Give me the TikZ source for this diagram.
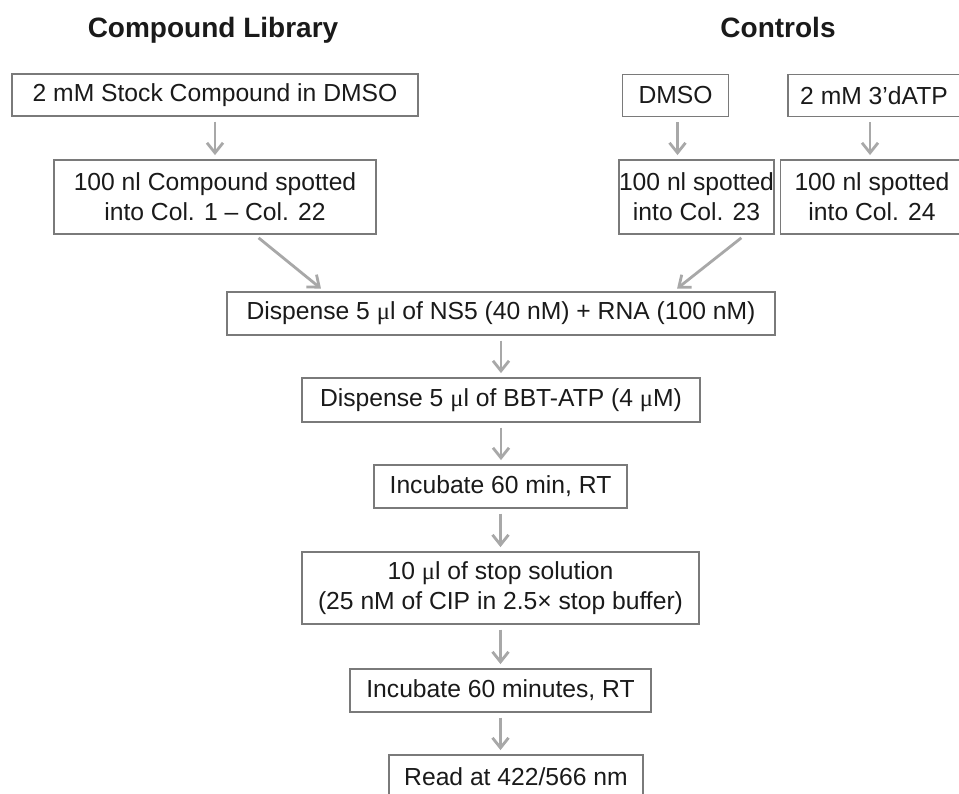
\documentclass[tikz,border=0pt]{standalone}
\usepackage{fontspec}
\setmainfont{Liberation Sans}
\newfontfamily\mufont{Liberation Serif}
\newcommand{\um}{{\mufont μ}}
\usetikzlibrary{arrows.meta,calc}
\definecolor{boxgray}{HTML}{7A7A7A}
\definecolor{arrgray}{HTML}{A8A8A8}
\definecolor{txt}{HTML}{1A1A1A}
\begin{document}
\begin{tikzpicture}[x=0.75pt,y=-0.75pt,
  stepbox/.style={draw=boxgray,line width=1.4pt,fill=white,inner sep=0pt,align=center,
    text=txt,font=\fontsize{18.5pt}{22.5pt}\selectfont},
  heading/.style={text=txt,font=\fontsize{21pt}{25pt}\selectfont\bfseries,inner sep=0pt,anchor=base},
  flow/.style={draw=arrgray,line width=2.1pt,-{Straight Barb[length=7.5pt,width=12pt,line width=2.1pt]},
    shorten <=3.5pt,shorten >=3pt}]
\clip (0,0) rectangle (959,793);
\fill[white] (0,0) rectangle (959,793);

\node[heading] (t1) at (213,37) {Compound Library};
\node[heading] (t2) at (778,37) {Controls};

\node[stepbox,minimum width=304.5pt,minimum height=31.5pt] (b1) at (215,95) {2 mM Stock Compound in DMSO};
\node[stepbox,minimum width=241.5pt,minimum height=55.5pt] (b2) at (215,197) {100 nl Compound spotted\\into Col. 1 -- Col. 22};
\node[stepbox,minimum width=79.5pt,minimum height=31.5pt] (dmso) at (675.5,95.5) {DMSO};
\node[stepbox,minimum width=129pt,minimum height=31.5pt] (datp) at (874,95.5) {2 mM 3’dATP};
\node[stepbox,minimum width=111.75pt,minimum height=55.5pt] (c23) at (696.5,197) {100 nl spotted\\into Col. 23};
\node[stepbox,minimum width=137.25pt,minimum height=55.5pt] (c24) at (872,197) {100 nl spotted\\into Col. 24};
\node[stepbox,minimum width=411pt,minimum height=32.25pt] (ns5) at (501,313.5) {Dispense 5 \um l of NS5 (40 nM) + RNA (100 nM)};
\node[stepbox,minimum width=298.5pt,minimum height=33pt] (bbt) at (501,400) {Dispense 5 \um l of BBT-ATP (4 \um M)};
\node[stepbox,minimum width=189.75pt,minimum height=32.25pt] (inc1) at (500.5,486.5) {Incubate 60 min, RT};
\node[stepbox,minimum width=297.75pt,minimum height=54pt] (stop) at (500.5,588) {10 \um l of stop solution\\(25 nM of CIP in 2.5× stop buffer)};
\node[stepbox,minimum width=225.75pt,minimum height=32.25pt] (inc2) at (500.5,690.5) {Incubate 60 minutes, RT};
\node[stepbox,minimum width=190.5pt,minimum height=32.25pt] (read) at (516,776.5) {Read at 422/566 nm};

\draw[flow] (b1.south) -- (b2.north);
\draw[flow] ([xshift=1.5pt]dmso.south) -- ([xshift=1.5pt]dmso.south |- c23.north);
\draw[flow] ([xshift=-3pt]datp.south) -- ([xshift=-3pt]datp.south |- c24.north);
\draw[flow] ([shift={(40,0)}]b2.south) -- ([shift={(98,0)}]ns5.north west);
\draw[flow] ([shift={(48.5,0)}]c23.south) -- ([shift={(-102,0)}]ns5.north east);
\draw[flow] (ns5.south) -- (bbt.north);
\draw[flow] (bbt.south) -- (bbt.south |- inc1.north);
\draw[flow] (inc1.south) -- (stop.north);
\draw[flow] (stop.south) -- (inc2.north);
\draw[flow] (inc2.south) -- (inc2.south |- read.north);
\end{tikzpicture}
\end{document}
